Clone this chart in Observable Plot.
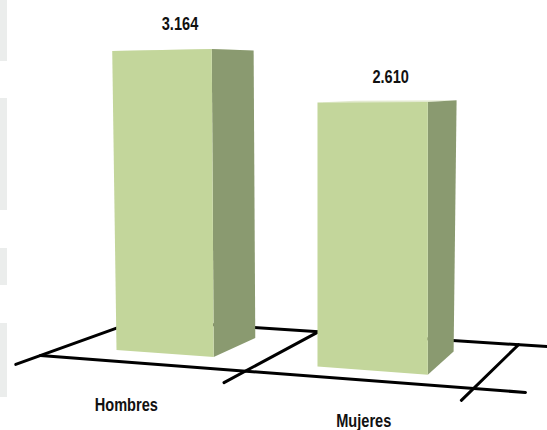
<!DOCTYPE html>
<html><head><meta charset="utf-8">
<style>html,body{margin:0;padding:0;background:#fff}svg{display:block}</style>
<script src="https://cdn.jsdelivr.net/npm/d3@7"></script>
<script src="https://cdn.jsdelivr.net/npm/@observablehq/plot@0.6"></script>
</head><body><div id="chart"></div>
<script>
const categories = ["Hombres", "Mujeres"];
const values = [3164, 2610];

// Footprint of each bar on the floor, as fractions of the floor's width and depth.
const barFrontU = [[0.12, 0.352], [0.606, 0.868]];
const barBackU = [0.356, 0.862];
const barD = [[0.26, 0.76], [0.22, 0.76]];
const labelFloor = [[0.373, -0.96], [0.854, -0.88]];
const gridU = [0, 0.473, 1];
const gridDrop = [-0.25, -0.29, -0.27];
const stripes = [[0, 61], [98, 210], [248, 285], [323, 397]];

// Oblique floor projection fitted to the picture.
function floor(u, d) {
  const lx = 40 + 99 * d, ly = 355 - 35.6 * d, rx = 473 + 45 * d, ry = 388 - 43.8 * d;
  return [lx + (rx - lx) * u, ly + (ry - ly) * u];
}
const unit = (u, d) => 0.096 + 0.01364 * u - d * (0.0118 + 0.0039 * u);
const lean = (u, d) => 10 * Math.min(0, u - 0.55) + 5.5 * Math.max(0, d - 0.22) * Math.max(0, u - 0.3) / 0.56;
function project(u, d, v, key) {
  const [x, y] = floor(u, d);
  return {x: x + (v ? lean(u, d) : 0), y: y - v * unit(u, d), key};
}

const faces = {front: [], side: [], top: []};
values.forEach((v, i) => {
  const [u0, u1] = barFrontU[i], ub = barBackU[i], [d0, d1] = barD[i], k = categories[i];
  faces.top.push(project(u0, d0, v, k), project(u1, d0, v, k), project(ub, d1, v, k), project(u0, d1, v, k));
  faces.front.push(project(u0, d0, 0, k), project(u1, d0, 0, k), project(u1, d0, v, k), project(u0, d0, v, k));
  faces.side.push(project(u1, d0, 0, k), project(ub, d1, 0, k), project(ub, d1, v, k), project(u1, d0, v, k));
});

const floorLines = [];
const addLine = (a, b, key) => floorLines.push(
  {x: floor(...a)[0], y: floor(...a)[1], key}, {x: floor(...b)[0], y: floor(...b)[1], key});
addLine([0, 0], [1.12, 0], "front");
addLine([0, 1], [1.08, 1], "back");
gridU.forEach((u, i) => addLine([u, gridDrop[i]], [u, 1], "tick" + i));

const es = d3.formatLocale({decimal: ",", thousands: ".", grouping: [3], currency: ["", ""]}).format(",d");
const valueLabels = values.map((v, i) => {
  const left = project(barFrontU[i][0], barD[i][0], v), right = project(barFrontU[i][1], barD[i][0], v);
  return {x: (left.x + right.x) / 2 + 18, y: Math.min(left.y, right.y) - 25, text: es(v)};
});
const categoryLabels = categories.map((c, i) => {
  const [x, y] = floor(...labelFloor[i]);
  return {x, y, text: c};
});
const textStyle = {x: "x", y: "y", text: "text", fontFamily: "'Liberation Sans',sans-serif",
  fontWeight: "bold", fontSize: 18, fill: "#111", textAnchor: "middle", lineAnchor: "middle"};
const polygon = (data, fill) => Plot.line(data, {x: "x", y: "y", z: "key", fill, stroke: "none", curve: "linear-closed"});

document.getElementById("chart").append(Plot.plot({
  width: 547, height: 430, margin: 0,
  style: {background: "#fff"},
  x: {type: "linear", domain: [0, 547], range: [0, 547], axis: null},
  y: {type: "linear", domain: [0, 430], range: [0, 430], axis: null},
  marks: [
    Plot.rect(stripes, {x1: () => 0, x2: () => 7, y1: d => d[0], y2: d => d[1], fill: "#ebedec"}),
    Plot.line(floorLines, {x: "x", y: "y", z: "key", stroke: "#000", strokeWidth: 3, curve: "linear"}),
    polygon(faces.top, "#e3ead0"),
    polygon(faces.side, "#8a9a70"),
    polygon(faces.front, "#c3d69b"),
    Plot.text(valueLabels, textStyle),
    Plot.text(categoryLabels, textStyle)
  ]
}));
// The reference's labels are in a condensed face: squeeze the installed bold to the same width.
document.querySelectorAll("#chart svg text").forEach(t => {
  t.setAttribute("textLength", t.getComputedTextLength() * 0.81);
  t.setAttribute("lengthAdjust", "spacingAndGlyphs");
});
</script></body></html>
